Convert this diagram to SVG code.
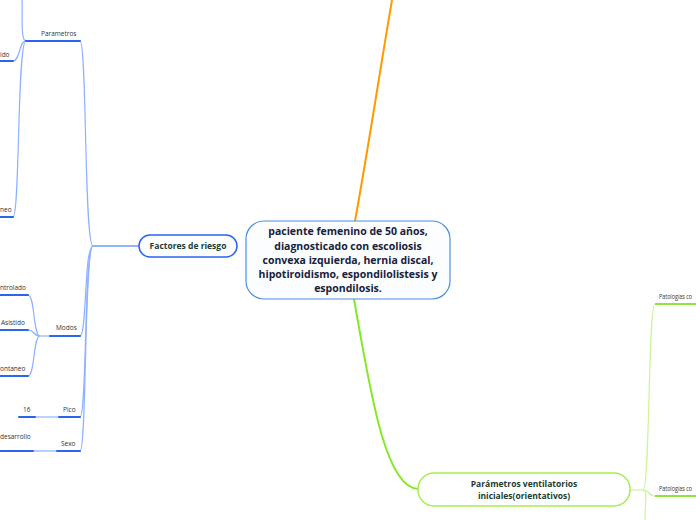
<svg xmlns="http://www.w3.org/2000/svg" width="696" height="520" viewBox="0 0 696 520">
<style>
.lbl{font-family:"Open Sans","Liberation Sans",sans-serif;font-size:6.5px;fill:#333;}
.ul{stroke:#2a64f0;stroke-width:2;fill:none;stroke-linecap:round;}
.cb{stroke:#8fb2ff;stroke-width:1.2;fill:none;}
.cg{stroke:#c8f59a;stroke-width:1.2;fill:none;}
.ug{stroke:#8ee63a;stroke-width:2;fill:none;}
</style>
<rect width="696" height="520" fill="#ffffff"/>
<g id="connectors">
  <path d="M355,221 C368,150 380,70 392,0" stroke="#ff9a00" stroke-width="2" fill="none"/>
  <path d="M354,299 C370,390 385,488 418,489" stroke="#86e828" stroke-width="2" fill="none"/>
  <path d="M139,246 L93,246" stroke="#6d9bff" stroke-width="1.5" fill="none"/>
  <path class="cb" d="M93,246 C84,246 87,41 80,41"/>
  <path class="cb" d="M93,246 C84,246 87,336 80,336"/>
  <path class="cb" d="M93,246 C84,246 87,417 80,417"/>
  <path class="cb" d="M93,246 C84,246 87,451 80,451"/>
  <path class="cb" d="M26,41 C20,41 23,10 22,0"/>
  <path class="cb" d="M26,41 C19,41 20,61 13,61"/>
  <path class="cb" d="M26,41 C17,41 20,217 13,217"/>
  <path class="cb" d="M50,336 L40,336"/>
  <path class="cb" d="M40,336 C33,336 35,295 28,295"/>
  <path class="cb" d="M40,336 C33,336 35,330 28,330"/>
  <path class="cb" d="M40,336 C33,336 35,376 28,376"/>
  <path class="cb" d="M59,417 L35,417"/>
  <path d="M57,451 L33,451" stroke="#b8cfff" stroke-width="2" fill="none"/>
  <path class="cg" d="M630,490 L643,490"/>
  <path class="cg" d="M643,490 C650,490 648,304 655,304"/>
  <path class="cg" d="M643,490 C650,490 648,496 655,496"/>
  <path class="cg" d="M643,490 C648,490 645,505 645,520"/>
</g>
<g id="center">
  <rect x="246" y="221" width="204" height="78" rx="18" fill="#fbfdff" stroke="#4a8fe0" stroke-width="1.2"/>
  <g font-family="'Open Sans','Liberation Sans',sans-serif" font-size="10.5" font-weight="bold" fill="#17223b" text-anchor="middle">
    <text x="348" y="235">paciente femenino de 50 años,</text>
    <text x="348" y="250">diagnosticado con escoliosis</text>
    <text x="348" y="264">convexa izquierda, hernia discal,</text>
    <text x="348" y="278">hipotiroidismo, espondilolistesis y</text>
    <text x="348" y="292">espondilosis.</text>
  </g>
</g>
<g id="factores">
  <rect x="139" y="235" width="98" height="22" rx="11" fill="#ffffff" stroke="#2a64f0" stroke-width="1.5"/>
  <text x="188" y="249" font-family="'Open Sans','Liberation Sans',sans-serif" font-size="8.5" font-weight="bold" fill="#1a3c33" text-anchor="middle">Factores de riesgo</text>
</g>
<g id="parametros">
  <path class="ul" d="M26,41 L80,41"/>
  <text class="lbl" x="41" y="36">Parametros</text>
</g>
<g id="ido">
  <path class="ul" d="M0,61 L13,61"/>
  <text class="lbl" x="0" y="57">ido</text>
</g>
<g id="neo">
  <path class="ul" d="M0,217 L13,217"/>
  <text class="lbl" x="0" y="212">neo</text>
</g>
<g id="modos">
  <path class="ul" d="M50,336 L80,336"/>
  <text class="lbl" x="56" y="330">Modos</text>
</g>
<g id="controlado">
  <path class="ul" d="M0,295 L28,295"/>
  <text class="lbl" x="0" y="290">ntrolado</text>
</g>
<g id="asistido">
  <path class="ul" d="M0,330 L28,330"/>
  <text class="lbl" x="1" y="325">Asistido</text>
</g>
<g id="espontaneo">
  <path class="ul" d="M0,376 L28,376"/>
  <text class="lbl" x="0" y="371">ontaneo</text>
</g>
<g id="pico">
  <path class="ul" d="M59,417 L80,417"/>
  <text class="lbl" x="63" y="412">Pico</text>
</g>
<g id="v16">
  <path class="ul" d="M19,417 L35,417"/>
  <text class="lbl" x="23" y="412">16</text>
</g>
<g id="sexo">
  <path class="ul" d="M57,451 L80,451"/>
  <text class="lbl" x="61" y="446">Sexo</text>
</g>
<g id="desarrollo">
  <path class="ul" d="M0,451 L33,451"/>
  <text class="lbl" x="0" y="439">desarrollo</text>
</g>
<g id="ventilatorios">
  <rect x="418" y="473" width="212" height="33" rx="16" fill="#ffffff" stroke="#a6ee4e" stroke-width="1.5"/>
  <g font-family="'Open Sans','Liberation Sans',sans-serif" font-size="8.5" font-weight="bold" fill="#1a3c33" text-anchor="middle">
    <text x="524" y="487">Parámetros ventilatorios</text>
    <text x="524" y="499">iniciales(orientativos)</text>
  </g>
</g>
<g id="patologias1">
  <path class="ug" d="M655,304 L696,304"/>
  <text class="lbl" x="659" y="299" textLength="33" lengthAdjust="spacingAndGlyphs">Patologías co</text>
</g>
<g id="patologias2">
  <path class="ug" d="M655,496 L696,496"/>
  <text class="lbl" x="659" y="491" textLength="33" lengthAdjust="spacingAndGlyphs">Patologías co</text>
</g>
</svg>
